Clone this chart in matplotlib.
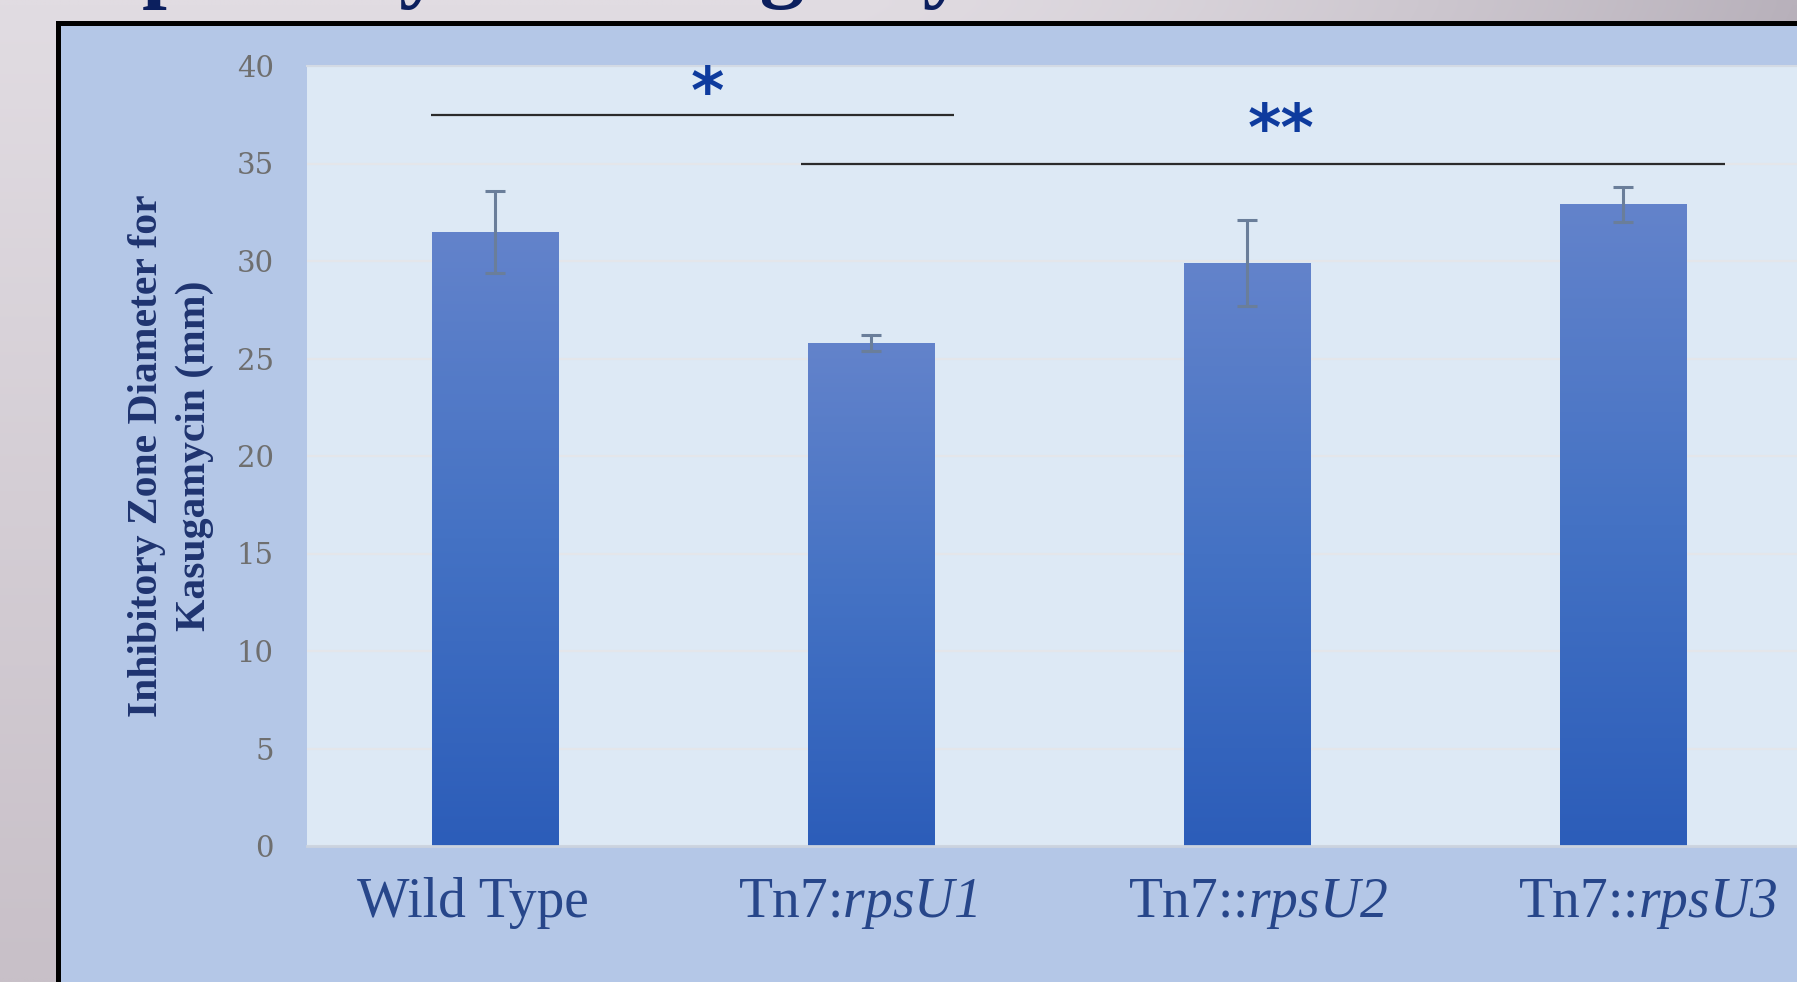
import numpy as np
import matplotlib
matplotlib.use("Agg")
import matplotlib.pyplot as plt
from matplotlib.colors import LinearSegmentedColormap
from matplotlib.patches import Rectangle
from matplotlib import transforms

# ---------------- data ----------------
categories = ["Wild Type", "Tn7:rpsU1", "Tn7::rpsU2", "Tn7::rpsU3"]
tick_labels = ["Wild Type", r"Tn7:$\mathit{rpsU1}$", r"Tn7::$\mathit{rpsU2}$", r"Tn7::$\mathit{rpsU3}$"]
means = [31.5, 25.8, 29.9, 32.9]
errors = [2.1, 0.4, 2.2, 0.9]
yticks = [0, 5, 10, 15, 20, 25, 30, 35, 40]

sig_labels = ["*", "**"]
sig_starts = [-0.17, 0.815]
sig_ends = [1.22, 3.27]
sig_heights = [37.5, 35.0]
sig_text_x = [0.565, 2.09]
sig_text_y = [38.5, 36.6]

title_text = "Susceptibility to Kasugamycin"
ylabel_text = "Inhibitory Zone Diameter for\nKasugamycin (mm)"

# ---------------- style ----------------
plt.rcParams["mathtext.fontset"] = "custom"
plt.rcParams["mathtext.rm"] = "Liberation Serif:italic"
plt.rcParams["mathtext.it"] = "Liberation Serif:italic"

W, H = 1797, 982
fig = plt.figure(figsize=(W / 100, H / 100), dpi=100)

# slide background gradient + boxed frame
bg = fig.add_axes([0, 0, 1, 1], zorder=-10)
bg.axis("off")
yy, xx = np.mgrid[0:1:100j, 0:1:200j]
tl = np.array([0xE1, 0xDC, 0xE2]) / 255
tr = np.array([0xB8, 0xB1, 0xBB]) / 255
bl = np.array([0xC8, 0xC0, 0xC8]) / 255
fx = np.clip((xx - 0.45) / 0.55, 0, 1) ** 1.5
img = tl + (tr - tl) * fx[..., None] + (bl - tl) * yy[..., None]
bg.imshow(img, extent=[0, W, H, 0], aspect="auto", interpolation="bilinear")
bg.add_patch(Rectangle((57.5, 23.0), W, H, facecolor="#B4C7E7",
                       edgecolor="black", linewidth=3.6))
bg.set_xlim(0, W)
bg.set_ylim(H, 0)

# main axes
ax_left = 307 / W
ax_bottom = (H - 846) / H
ax_height = 780 / H
ax_width = 1504 / W
ax = fig.add_axes([ax_left, ax_bottom, ax_width, ax_height], zorder=1)
ax.set_facecolor("#DDE9F5")

x = np.arange(len(categories))
bars = ax.bar(x, means, width=0.336, facecolor="none", edgecolor="none", zorder=2)

cmap = LinearSegmentedColormap.from_list("barg", ["#2C5DB9", "#4472C4", "#6383CB"])
grad = np.linspace(0, 1, 256).reshape(-1, 1)
for rect in bars:
    x0, w, h = rect.get_x(), rect.get_width(), rect.get_height()
    im = ax.imshow(grad, extent=[x0, x0 + w, 0, h], origin="lower",
                   aspect="auto", cmap=cmap, zorder=2, interpolation="bilinear")
    im.set_clip_path(rect)

ax.errorbar(x, means, yerr=errors, fmt="none", ecolor="#6A7E9A",
            elinewidth=2.2, capsize=7.5, capthick=2.2, zorder=4)

# significance markers
for lab, s, e, h, tx, ty in zip(sig_labels, sig_starts, sig_ends, sig_heights,
                                 sig_text_x, sig_text_y):
    ax.plot([s, e], [h, h], color="#2B2B2B", lw=1.6, solid_capstyle="butt", zorder=3)
    ax.text(tx, ty, lab, ha="center", va="center", fontsize=46, fontweight="bold",
            family="DejaVu Sans", color="#0E3B9E", zorder=5)

ax.set_xlim(-0.5, 3.5)
ax.set_ylim(0, 40)
ax.set_yticks(yticks)
ax.set_yticklabels([str(v) for v in yticks], family="DejaVu Serif",
                   fontsize=21, color="#6F6F6F")
ax.tick_params(axis="y", length=0, pad=24)
ax.set_xticks(x)
ax.set_xticklabels([])
ax.tick_params(axis="x", length=0)
ax.set_axisbelow(True)
ax.yaxis.grid(True, color="#E4E6EA", lw=1.6)
for side in ["left", "right"]:
    ax.spines[side].set_visible(False)
ax.spines["bottom"].set_color("#CBD3DF")
ax.spines["bottom"].set_linewidth(2)
ax.spines["top"].set_color("#D3DAE4")
ax.spines["top"].set_linewidth(1.5)

# category labels
label_dx = [-0.06, -0.034, 0.03, 0.064]
trans = transforms.blended_transform_factory(ax.transData, ax.transAxes)
for xi, lab, dx in zip(x, tick_labels, label_dx):
    ax.text(xi + dx, -0.091, lab, transform=trans, ha="center", va="baseline",
            fontsize=40, family="Liberation Serif", color="#27468A", clip_on=False)

# y label
ax.set_ylabel(ylabel_text, family="Liberation Serif", fontweight="bold",
              fontsize=30, color="#1F3470", linespacing=1.3)
ax.yaxis.label.set_va("center")
ax.yaxis.set_label_coords(-0.0905, 0.5)

# cropped title at top
fig.text(-0.039, 1 + 9.5 / H, title_text, fontsize=64, fontweight="bold",
         family="Liberation Serif", color="#0B1F5E", va="baseline", ha="left")

fig.savefig("out.png", dpi=100)
